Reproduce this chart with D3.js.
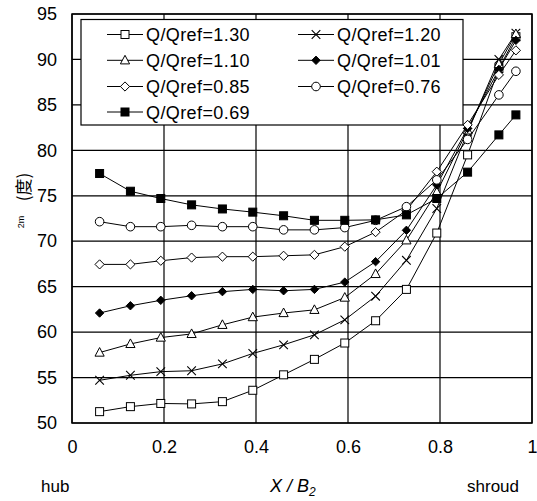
<!DOCTYPE html>
<html>
<head>
<meta charset="utf-8">
<script src="https://cdn.jsdelivr.net/npm/d3@7"></script>
<style>
  body { margin: 0; background: #fff; }
  svg { display: block; font-family: "Liberation Sans", Arial, sans-serif; }
</style>
</head>
<body>
<div id="chart"></div>
<script>
// positions along the blade width, hub -> shroud
const xPos = [0.06, 0.127, 0.193, 0.26, 0.327, 0.393, 0.46, 0.527, 0.593, 0.66, 0.727, 0.793, 0.86, 0.928, 0.965];

const q130 = [51.25, 51.8, 52.15, 52.1, 52.35, 53.6, 55.3, 57.0, 58.8, 61.25, 64.7, 70.9, 79.5, 89.0, 92.5];
const q120 = [54.7, 55.25, 55.65, 55.75, 56.5, 57.65, 58.6, 59.7, 61.35, 63.95, 67.9, 73.6, 82.0, 90.0, 92.9];
const q110 = [57.75, 58.7, 59.4, 59.8, 60.8, 61.65, 62.1, 62.45, 63.8, 66.4, 70.1, 75.4, 82.2, 89.5, 92.8];
const q101 = [62.1, 62.9, 63.5, 64.0, 64.45, 64.7, 64.55, 64.7, 65.5, 67.75, 71.2, 76.2, 82.4, 88.9, 92.1];
const q085 = [67.45, 67.45, 67.85, 68.2, 68.3, 68.3, 68.4, 68.5, 69.4, 71.0, 73.4, 77.65, 82.8, 88.3, 91.0];
const q076 = [72.15, 71.6, 71.6, 71.75, 71.6, 71.6, 71.25, 71.25, 71.5, 72.3, 73.8, 76.75, 81.2, 86.1, 88.7];
const q069 = [77.45, 75.5, 74.7, 74.0, 73.55, 73.2, 72.8, 72.3, 72.3, 72.35, 72.9, 74.7, 77.6, 81.7, 83.9];

const seriesNames = ["Q/Qref=1.30", "Q/Qref=1.20", "Q/Qref=1.10", "Q/Qref=1.01", "Q/Qref=0.85", "Q/Qref=0.76", "Q/Qref=0.69"];
const seriesValues = [q130, q120, q110, q101, q085, q076, q069];
const markerTypes = ["square", "cross", "triangle", "diamondFilled", "diamond", "circle", "squareFilled"];

const xTicks = [0, 0.2, 0.4, 0.6, 0.8, 1];
const yTicks = [50, 55, 60, 65, 70, 75, 80, 85, 90, 95];

const width = 537, height = 501;
const margin = {top: 14, right: 5, bottom: 78, left: 72};

const svg = d3.select("#chart").append("svg")
    .attr("width", width)
    .attr("height", height);

const x = d3.scaleLinear().domain([0, 1]).range([margin.left, width - margin.right]);
const y = d3.scaleLinear().domain([50, 95]).range([height - margin.bottom, margin.top]);

// grid
svg.append("g").selectAll("line.h")
    .data(yTicks)
    .join("line")
    .attr("x1", x(0)).attr("x2", x(1))
    .attr("y1", d => y(d)).attr("y2", d => y(d))
    .attr("stroke", "#000").attr("stroke-width", 1.2);
svg.append("g").selectAll("line.v")
    .data(xTicks)
    .join("line")
    .attr("x1", d => x(d)).attr("x2", d => x(d))
    .attr("y1", y(50)).attr("y2", y(95))
    .attr("stroke", "#000").attr("stroke-width", 1.2);

// axes (labels only, no tick marks)
const yAxis = d3.axisLeft(y).tickValues(yTicks).tickSize(0).tickPadding(15);
const gy = svg.append("g").attr("transform", `translate(${x(0)},0)`).call(yAxis);
gy.select(".domain").remove();
gy.selectAll("text").attr("font-size", 18).attr("fill", "#000")
    .attr("font-family", "Liberation Sans, Arial, sans-serif");

const xAxis = d3.axisBottom(x).tickValues(xTicks).tickSize(0).tickPadding(17)
    .tickFormat(d => d === 0 || d === 1 ? d3.format("d")(d) : d3.format(".1f")(d));
const gx = svg.append("g").attr("transform", `translate(0,${y(50)})`).call(xAxis);
gx.select(".domain").remove();
gx.selectAll("text").attr("font-size", 18).attr("fill", "#000")
    .attr("font-family", "Liberation Sans, Arial, sans-serif");

// frame
svg.append("rect")
    .attr("x", x(0)).attr("y", y(95))
    .attr("width", x(1) - x(0)).attr("height", y(50) - y(95))
    .attr("fill", "none").attr("stroke", "#000").attr("stroke-width", 1.5);

// marker drawing
function drawMarker(g, type, cx, cy) {
  if (type === "square" || type === "squareFilled") {
    const s = 8;
    g.append("rect").attr("x", cx - s / 2).attr("y", cy - s / 2).attr("width", s).attr("height", s)
      .attr("fill", type === "square" ? "#fff" : "#000").attr("stroke", "#000").attr("stroke-width", 1);
  } else if (type === "circle") {
    g.append("circle").attr("cx", cx).attr("cy", cy).attr("r", 4.3)
      .attr("fill", "#fff").attr("stroke", "#000").attr("stroke-width", 1);
  } else if (type === "triangle") {
    g.append("path").attr("d", `M${cx},${cy - 5}L${cx + 4.6},${cy + 3.6}L${cx - 4.6},${cy + 3.6}Z`)
      .attr("fill", "#fff").attr("stroke", "#000").attr("stroke-width", 1);
  } else if (type === "diamond" || type === "diamondFilled") {
    const r = type === "diamond" ? 4.6 : 4.2;
    g.append("path").attr("d", `M${cx},${cy - r}L${cx + r},${cy}L${cx},${cy + r}L${cx - r},${cy}Z`)
      .attr("fill", type === "diamond" ? "#fff" : "#000").attr("stroke", "#000").attr("stroke-width", 1);
  } else if (type === "cross") {
    const r = 4.3;
    g.append("path").attr("d", `M${cx - r},${cy - r}L${cx + r},${cy + r}M${cx - r},${cy + r}L${cx + r},${cy - r}`)
      .attr("fill", "none").attr("stroke", "#000").attr("stroke-width", 1.1);
  }
}

const line = d3.line().x(d => x(d[0])).y(d => y(d[1]));

seriesValues.forEach((vals, i) => {
  const pts = vals.map((v, k) => [xPos[k], v]);
  const g = svg.append("g");
  g.append("path").attr("d", line(pts))
    .attr("fill", "none").attr("stroke", "#000").attr("stroke-width", 1);
  pts.forEach(p => drawMarker(g, markerTypes[i], x(p[0]), y(p[1])));
});

// legend
const legend = svg.append("g");
legend.append("rect")
    .attr("x", 81).attr("y", 19.5).attr("width", 382).attr("height", 105.5)
    .attr("fill", "#fff").attr("stroke", "#000").attr("stroke-width", 1.2);
const colX = [107, 298];
const rowY = [34.5, 60.3, 86.5, 112];
seriesNames.forEach((name, i) => {
  const col = i % 2, row = Math.floor(i / 2);
  const lx = colX[col], ly = rowY[row];
  legend.append("line").attr("x1", lx).attr("x2", lx + 36).attr("y1", ly).attr("y2", ly)
    .attr("stroke", "#000").attr("stroke-width", 1);
  drawMarker(legend, markerTypes[i], lx + 18, ly);
  legend.append("text").attr("x", lx + 39).attr("y", ly + 6.5)
    .attr("font-size", 18).attr("letter-spacing", 0.4).text(name);
});

// bottom labels
svg.append("text").attr("x", 41).attr("y", 492).attr("font-size", 17).text("hub");
svg.append("text").attr("x", 519).attr("y", 492).attr("font-size", 17).attr("text-anchor", "end").text("shroud");
const xl = svg.append("text").attr("x", 270).attr("y", 492).attr("font-size", 18).attr("font-style", "italic");
xl.append("tspan").text("X / B");
xl.append("tspan").attr("font-size", 12).attr("dy", 4).text("2");

// y-axis title
svg.append("text").attr("transform", "translate(30,187) rotate(-90)")
    .attr("text-anchor", "middle").attr("font-size", 17)
    .attr("font-family", "'Noto Sans CJK SC', sans-serif").text("(度)");
svg.append("text").attr("transform", "translate(24,222) rotate(-90)")
    .attr("text-anchor", "middle").attr("font-size", 9).text("2m");
</script>
</body>
</html>
